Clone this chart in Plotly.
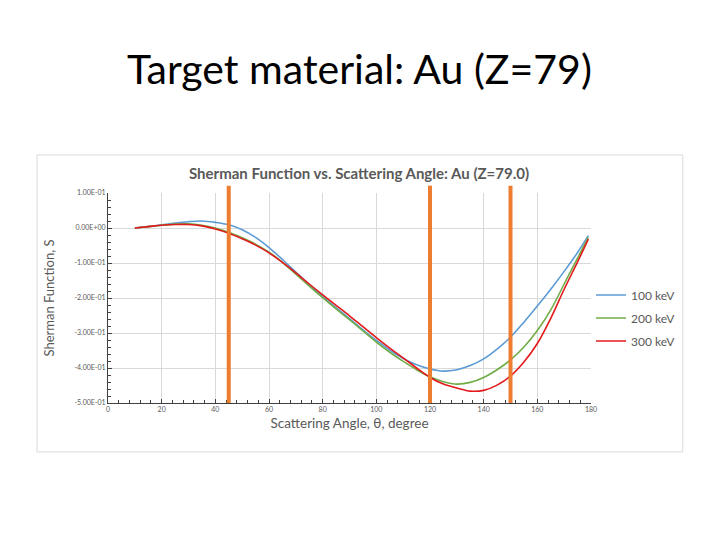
'''
Sherman function vs scattering angle for gold, three beam energies
'''
import plotly.graph_objects as go

# scattering angle, degree
angle = [10, 15, 20, 25, 30, 35, 40, 45, 50, 55, 60, 65, 70, 75, 80, 85, 90,
         95, 100, 105, 110, 115, 120, 125, 130, 135, 140, 145, 150, 155, 160,
         165, 170, 175, 179]

# Sherman function S
s_100kev = [0.000, 0.004, 0.009, 0.014, 0.018, 0.020, 0.016, 0.009, -0.005,
            -0.027, -0.056, -0.090, -0.126, -0.162, -0.196, -0.228, -0.259,
            -0.291, -0.321, -0.349, -0.373, -0.391, -0.403, -0.409, -0.405,
            -0.393, -0.374, -0.346, -0.312, -0.269, -0.223, -0.175, -0.124,
            -0.070, -0.022]
s_200kev = [0.000, 0.004, 0.008, 0.011, 0.012, 0.008, 0.000, -0.012, -0.028,
            -0.046, -0.069, -0.098, -0.132, -0.166, -0.199, -0.231, -0.262,
            -0.294, -0.326, -0.355, -0.381, -0.405, -0.425, -0.439, -0.446,
            -0.441, -0.427, -0.405, -0.377, -0.340, -0.293, -0.234, -0.160,
            -0.086, -0.027]
s_300kev = [0.000, 0.004, 0.008, 0.010, 0.010, 0.006, -0.003, -0.015, -0.031,
            -0.049, -0.071, -0.098, -0.128, -0.160, -0.191, -0.221, -0.251,
            -0.282, -0.313, -0.343, -0.371, -0.400, -0.427, -0.446, -0.457,
            -0.466, -0.464, -0.449, -0.423, -0.383, -0.330, -0.258, -0.175,
            -0.097, -0.032]

series_names = ['100 keV', '200 keV', '300 keV']
series_colors = ['#5b9bd5', '#70ad47', '#e31a1c']

# angles marked with the orange bars
marked_angles = [45, 120, 150]

x_ticks = [0, 20, 40, 60, 80, 100, 120, 140, 160, 180]
y_ticks = [0.1, 0.0, -0.1, -0.2, -0.3, -0.4, -0.5]
y_tick_text = ['1.00E-01', '0.00E+00', '-1.00E-01', '-2.00E-01',
               '-3.00E-01', '-4.00E-01', '-5.00E-01']

FONT = 'Lato'
GREY = '#595959'

fig = go.Figure()
for name, col, vals in zip(series_names, series_colors,
                           [s_100kev, s_200kev, s_300kev]):
    fig.add_trace(go.Scatter(x=angle, y=vals, name=name, mode='lines',
                             legendgroup=name,
                             line=dict(color=col, width=1.6, shape='spline')))

#orange marker bars, a bit taller than the plot area
for a in marked_angles:
    fig.add_shape(type='line', xref='x', yref='paper', x0=a, x1=a,
                  y0=0, y1=1.035, line=dict(color='#ed7d31', width=4))

#chart border as in the slide
fig.add_shape(type='rect', xref='paper', yref='paper', x0=-0.147, x1=1.190,
              y0=-0.233, y1=1.181, line=dict(color='#d9d9d9', width=1),
              layer='below')

fig.add_annotation(text='Target material: Au (Z=79)', xref='paper',
                   yref='paper', x=0.52, y=1.595, yanchor='middle',
                   showarrow=False,
                   font=dict(family=FONT, size=41, color='black'))
fig.add_annotation(text='<b>Sherman Function vs. Scattering Angle: Au (Z=79.0)</b>',
                   xref='paper', yref='paper', x=0.52, y=1.095,
                   yanchor='middle', showarrow=False,
                   font=dict(family=FONT, size=15, color=GREY))

fig.update_layout(
    width=720, height=540,
    margin=dict(l=100, r=137, t=185, b=145),
    paper_bgcolor='white', plot_bgcolor='white',
    font=dict(family=FONT, color=GREY),
    showlegend=True,
    legend=dict(x=1.0, y=0.405, xanchor='left', yanchor='middle',
                font=dict(size=12, color=GREY), itemwidth=30,
                tracegroupgap=4, bgcolor='rgba(0,0,0,0)'),
)
fig.update_xaxes(range=[0, 180], tickvals=x_ticks, showgrid=True,
                 gridcolor='#d9d9d9', gridwidth=1, showline=True,
                 linecolor='#404040', linewidth=1, ticks='inside', ticklen=4,
                 tickcolor='#404040', tickfont=dict(size=7, color=GREY),
                 minor=dict(dtick=4, ticks='inside', ticklen=3,
                            tickcolor='#404040', showgrid=False),
                 zeroline=False,
                 title=dict(text='Scattering Angle, θ, degree',
                            font=dict(size=13.5, color=GREY), standoff=6))
fig.update_yaxes(range=[-0.5, 0.1], tickvals=y_ticks, ticktext=y_tick_text,
                 showgrid=True, gridcolor='#d9d9d9', gridwidth=1,
                 showline=True, linecolor='#404040', linewidth=1,
                 ticks='inside', ticklen=4, tickcolor='#404040',
                 tickfont=dict(size=7, color=GREY),
                 minor=dict(dtick=0.02, ticks='inside', ticklen=3,
                            tickcolor='#404040', showgrid=False),
                 zeroline=False,
                 title=dict(text='Sherman Function, S',
                            font=dict(size=13, color=GREY), standoff=16))

fig.write_html('out.html')
